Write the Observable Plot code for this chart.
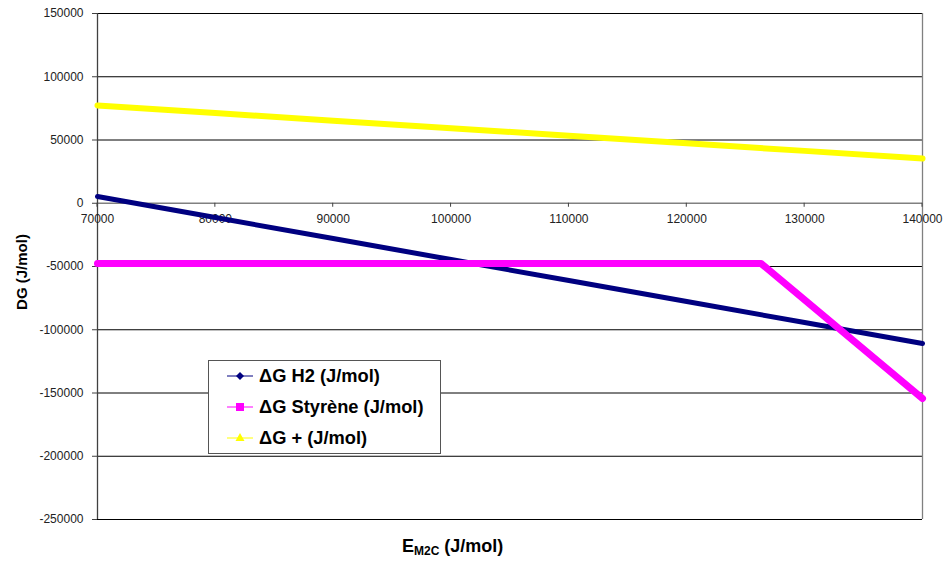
<!DOCTYPE html>
<html>
<head>
<meta charset="utf-8">
<script src="https://cdn.jsdelivr.net/npm/d3@7"></script>
<script src="https://cdn.jsdelivr.net/npm/@observablehq/plot@0.6"></script>
<style>
  html, body { margin: 0; padding: 0; background: #fff; }
  #wrap { position: relative; width: 951px; height: 563px; font-family: "Liberation Sans", Arial, sans-serif; }
  #legend { position: absolute; left: 208px; top: 360px; width: 231px; height: 92px; background: #fff;
            border: 1px solid #555; box-sizing: content-box; }
  .item { position: absolute; left: 0; height: 20px; display: flex; align-items: center; }
  .item svg { margin-left: 18px; }
  .item span { margin-left: 4px; font-weight: bold; font-size: 18.3px; color: #000; white-space: nowrap; }
</style>
</head>
<body>
<div id="wrap"></div>
<script>
// ---- data ----
const xTicks = [70000, 80000, 90000, 100000, 110000, 120000, 130000, 140000];
const yTicks = [-250000, -200000, -150000, -100000, -50000, 0, 50000, 100000, 150000];

const h2X = [70000, 80000, 90000, 100000, 110000, 120000, 130000, 140000];
const h2Y = [5300, -11300, -27900, -44500, -61100, -77700, -94300, -110900];

const styX = [70000, 126300, 140000];
const styY = [-47600, -47600, -154300];

const plusX = [70000, 80000, 90000, 100000, 110000, 120000, 130000, 140000];
const plusY = [77300, 71300, 65300, 59300, 53400, 47400, 41400, 35400];

const seriesNames = ["ΔG H2 (J/mol)", "ΔG Styrène (J/mol)", "ΔG + (J/mol)"];
const seriesColors = ["#000080", "#FF00FF", "#FFFF00"];

const toRows = (xs, ys) => xs.map((x, i) => ({x, y: ys[i]}));
const h2 = toRows(h2X, h2Y), sty = toRows(styX, styY), plus = toRows(plusX, plusY);

const plot = Plot.plot({
  width: 951, height: 563,
  marginLeft: 97, marginRight: 29, marginTop: 13, marginBottom: 44,
  x: {domain: [70000, 140000], axis: null},
  y: {domain: [-250000, 150000]},
  style: {fontFamily: "'Liberation Sans', Arial, sans-serif", fontSize: "12px", background: "#fff", color: "#222"},
  marks: [
    Plot.ruleY(yTicks.filter(d => d !== 0), {stroke: "#000", strokeWidth: 1}),
    Plot.ruleY([0], {stroke: "#808080", strokeWidth: 1.3}),
    Plot.ruleX([140000], {stroke: "#808080", strokeWidth: 1.3}),
    Plot.ruleX([70000], {stroke: "#404040", strokeWidth: 1.3}),
    Plot.axisY({ticks: yTicks, tickSize: 5, tickPadding: 9, tickFormat: d => String(d), stroke: "#404040", label: null, fontSize: 12}),
    Plot.text(xTicks, {x: d => d, y: 0, dy: 16, text: d => String(d), fontSize: 12, fill: "#222"}),
    Plot.line(plus, {x: "x", y: "y", stroke: seriesColors[2], strokeWidth: 6}),
    Plot.line(h2, {x: "x", y: "y", stroke: seriesColors[0], strokeWidth: 5}),
    Plot.line(sty, {x: "x", y: "y", stroke: seriesColors[1], strokeWidth: 7})
  ]
});

const wrap = document.getElementById("wrap");
wrap.appendChild(plot);

// x ticks at y = 0 using the plot's own scales
const xs = plot.scale("x"), ys = plot.scale("y");
const svg = d3.select(plot);
const y0 = ys.apply(0);
svg.append("g").selectAll("line").data(xTicks).join("line")
  .attr("x1", d => xs.apply(d)).attr("x2", d => xs.apply(d))
  .attr("y1", y0).attr("y2", y0 + 4)
  .attr("stroke", "#404040");

// axis titles
const xt = svg.append("text")
  .attr("x", 402).attr("y", 552)
  .attr("text-anchor", "start")
  .attr("font-family", "'Liberation Sans', Arial, sans-serif")
  .attr("font-weight", "bold").attr("font-size", 18).attr("fill", "#000");
xt.append("tspan").text("E");
xt.append("tspan").attr("font-size", 12).attr("dy", 3).text("M2C");
xt.append("tspan").attr("dy", -3).text(" (J/mol)");

svg.append("text")
  .attr("transform", "translate(27,272) rotate(-90)")
  .attr("text-anchor", "middle")
  .attr("font-family", "'Liberation Sans', Arial, sans-serif")
  .attr("font-weight", "bold").attr("font-size", 15).attr("fill", "#000")
  .text("DG (J/mol)");

// legend
const legend = document.createElement("div");
legend.id = "legend";
const markers = [
  c => `<path d="M13,5 L17,9 L13,13 L9,9 Z" fill="${c}"/>`,
  c => `<rect x="9" y="5" width="8" height="8" fill="${c}"/>`,
  c => `<path d="M13,4 L17.5,12 L8.5,12 Z" fill="${c}"/>`
];
const lineColors = ["#000080", "#FF00FF", "#FFFF00"];
seriesNames.forEach((name, i) => {
  const it = document.createElement("div");
  it.className = "item";
  it.style.top = (5 + i * 31) + "px";
  it.innerHTML = `<svg width="28" height="18"><line x1="0" x2="26" y1="9" y2="9" stroke="${lineColors[i]}" stroke-width="1"/>${markers[i](seriesColors[i])}</svg><span>${name}</span>`;
  legend.appendChild(it);
});
wrap.appendChild(legend);
</script>
</body>
</html>
